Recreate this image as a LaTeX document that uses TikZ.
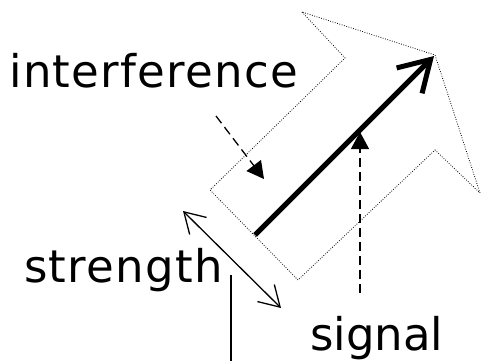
\documentclass[tikz,border=0pt]{standalone}
\usepackage{fontspec}
\setmainfont{DejaVu Sans}
\usepackage{tikz}
\usetikzlibrary{arrows.meta, positioning}

\begin{document}
\begin{tikzpicture}[
    x=1pt, y=-1pt,
    label/.style={inner sep=0pt, anchor=base west, font=\fontsize{45}{45}\selectfont},
    wide/.style={font=\fontsize{45}{45}\selectfont\addfontfeatures{LetterSpace=3}},
    outline/.style={line width=0.8pt, dash pattern=on 0.8pt off 1.6pt},
    dasharrow/.style={line width=1.3pt, dash pattern=on 9pt off 5pt, -{Triangle[length=17pt, width=18pt]}},
    wbarb/.tip={Straight Barb[length=20pt, width=24pt, line width=1.3pt]}
]
\useasboundingbox (0,0) rectangle (487,361);
% labels
\node[label, wide] (interf) at (9,87) {interference};
\node[label, wide] (strength) at (24,282) {strength};
\node[label] (signal) at (310,350) {signal};
% outline of the wide arrow
\draw[outline] (302,12) -- (345,58) -- (210,190) -- (298,280) -- (435,150) -- (480,193) -- (435,55) -- cycle;
% signal arrow
\coordinate (s0) at (255,235);
\coordinate (s1) at (434,56);
\draw[line width=5pt, -{Straight Barb[length=30pt, width=36pt, line width=5pt]}] (s0) -- (s1);
% interference and signal pointers
\coordinate (i0) at (216,116);
\coordinate (i1) at (264,179);
\draw[dasharrow] (i0) -- (i1);
\coordinate (g0) at (360,293);
\coordinate (g1) at (360,132);
\draw[dasharrow] (g0) -- (g1);
% strength
\coordinate (w0) at (183,211);
\coordinate (w1) at (281,308);
\draw[line width=1.3pt, wbarb-wbarb] (w0) -- (w1);
\coordinate (t0) at (231,275);
\coordinate (t1) at (231,361);
\draw[line width=1.3pt] (t0) -- (t1);
\end{tikzpicture}
\end{document}
